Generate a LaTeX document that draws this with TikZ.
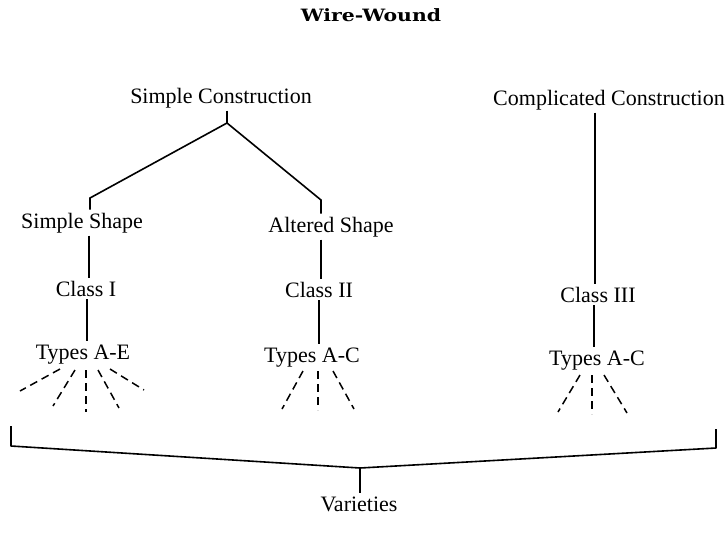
\documentclass[tikz,border=0pt]{standalone}
\usepackage{fontspec}
\setmainfont{Liberation Serif}
\newfontfamily\titlefont{DejaVu Serif}
\begin{document}
\begin{tikzpicture}[x=1pt,y=-1pt,
  lbl/.style={inner sep=0pt,outer sep=3pt,anchor=base,font=\fontsize{22}{24}\selectfont},
  link/.style={line width=1.6pt},
  fan/.style={line width=1.5pt,dash pattern=on 8pt off 5pt}]
\useasboundingbox (0,0) rectangle (727,542);
% title
\node[inner sep=0pt,anchor=base] (title) at (371,21) {\scalebox{1.2}[1]{\titlefont\bfseries\fontsize{17}{19}\selectfont Wire-Wound}};
% labels
\node[lbl] (sc) at (221,103) {Simple Construction};
\node[lbl] (cc) at (609,105) {Complicated Construction};
\node[lbl] (ss) at (82,228) {Simple Shape};
\node[lbl] (as) at (331,232) {Altered Shape};
\node[lbl] (c1) at (86,296) {Class I};
\node[lbl] (c2) at (319,297) {Class II};
\node[lbl] (c3) at (598,302) {Class III};
\node[lbl] (t1) at (83,359) {Types A-E};
\node[lbl] (t2) at (312,362) {Types A-C};
\node[lbl] (t3) at (597,365) {Types A-C};
\node[lbl] (v) at (359,511) {Varieties};
% junctions
\coordinate (j1) at (227,123);
\coordinate (jl) at (90,198);
\coordinate (jr) at (321,200);
% tree links
\draw[link] (227,0 |- sc.south) -- (j1);
\draw[link] (j1) -- (jl) -- (90,0 |- ss.north);
\draw[link] (j1) -- (jr) -- (321,0 |- as.north);
\draw[link] (89,0 |- ss.south) -- (89,0 |- c1.north);
\draw[link] (87,0 |- c1.south) -- (87,0 |- t1.north);
\draw[link] (321,0 |- as.south) -- (321,0 |- c2.north);
\draw[link] (319,0 |- c2.south) -- (319,0 |- t2.north);
\draw[link] (595,0 |- cc.south) -- (595,0 |- c3.north);
\draw[link] (594,0 |- c3.south) -- (594,0 |- t3.north);
% fans
\coordinate (f1) at (86,370);
\draw[fan] ([shift={(-26,-1)}]f1) -- ([shift={(-66,21)}]f1);
\draw[fan] ([shift={(-11,0)}]f1) -- ([shift={(-33,36)}]f1);
\draw[fan] (f1) -- ([shift={(0,42)}]f1);
\draw[fan] ([shift={(12,0)}]f1) -- ([shift={(33,38)}]f1);
\draw[fan] ([shift={(24,-1)}]f1) -- ([shift={(58,20)}]f1);
\coordinate (f2) at (318,371);
\draw[fan] ([shift={(-15,0)}]f2) -- ([shift={(-36,38)}]f2);
\draw[fan] (f2) -- ([shift={(0,39)}]f2);
\draw[fan] ([shift={(15,0)}]f2) -- ([shift={(36,38)}]f2);
\coordinate (f3) at (592,375);
\draw[fan] ([shift={(-12,0)}]f3) -- ([shift={(-34,37)}]f3);
\draw[fan] (f3) -- ([shift={(0,39)}]f3);
\draw[fan] ([shift={(12,0)}]f3) -- ([shift={(35,38)}]f3);
% bracket
\coordinate (bl) at (11,426);
\coordinate (bl2) at (11,446);
\coordinate (apex) at (360,468);
\coordinate (br2) at (716,448);
\coordinate (br) at (716,429);
\draw[link,line join=round] (bl) -- (bl2) -- (apex) -- (br2) -- (br);
\draw[link] (apex) -- (360,0 |- v.north);
\end{tikzpicture}
\end{document}
